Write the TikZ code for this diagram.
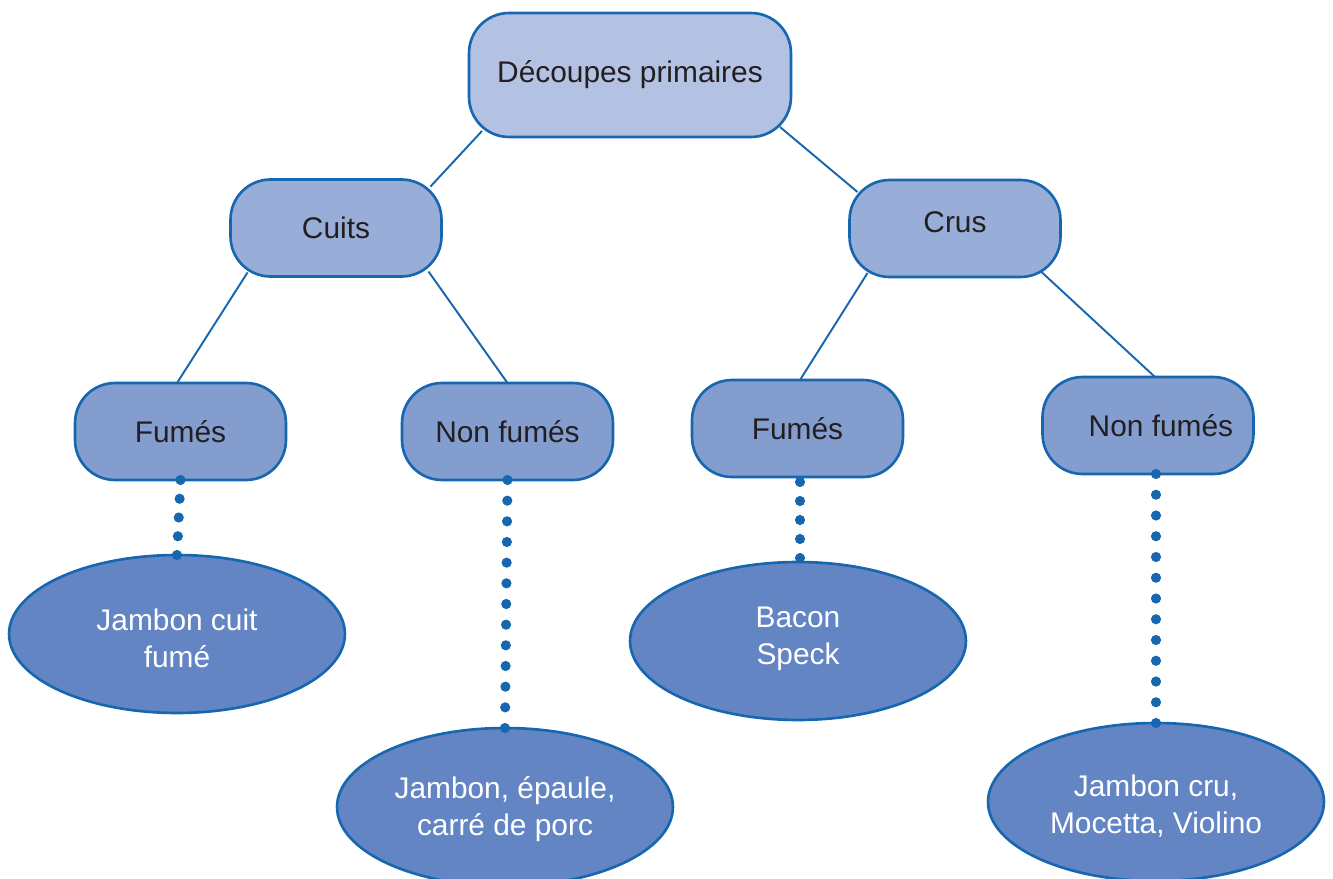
\documentclass[tikz,border=0pt]{standalone}
\usepackage{fontspec}
\setmainfont{Liberation Sans}
\usetikzlibrary{shapes.geometric,calc}
\definecolor{edgeblue}{RGB}{22,102,176}
\definecolor{topfill}{RGB}{179,194,227}
\definecolor{midfill}{RGB}{153,173,217}
\definecolor{lowfill}{RGB}{131,157,207}
\definecolor{ellfill}{RGB}{100,133,196}
\definecolor{txtdark}{RGB}{35,31,32}
\newcommand\twolines[3]{\raisebox{#1}[0pt][0pt]{\begin{tabular}{@{}c@{}}#2\\#3\end{tabular}}}
\begin{document}
\begin{tikzpicture}[x=0.02cm,y=-0.02cm,
  box/.style={draw=edgeblue,line width=1.5pt,rounded corners=0.8cm,outer sep=0pt,inner sep=0pt,
    minimum width=4.22cm,minimum height=1.94cm,text=txtdark,font=\fontsize{17}{21}\selectfont},
  topbox/.style={box,fill=topfill,minimum width=6.44cm,minimum height=2.48cm},
  midbox/.style={box,fill=midfill},
  lowbox/.style={box,fill=lowfill},
  leaf/.style={ellipse,draw=edgeblue,line width=1.5pt,fill=ellfill,minimum width=6.72cm,
    minimum height=3.16cm,inner sep=0pt,outer sep=0pt,text=white,align=center,
    font=\fontsize{17}{21}\selectfont},
  link/.style={draw=edgeblue,line width=1.1pt},
  dotmark/.style={fill=edgeblue}]
\useasboundingbox (0,0) rectangle (1333,879);
% nodes
\node[topbox] (top) at (630,75) {Découpes primaires};
\node[midbox] (cuits) at (336,228) {Cuits};
\node[midbox] (crus) at (955,228.5) {\raisebox{-2.4pt}[0pt][0pt]{Crus}};
\node[lowbox] (fumL) at (180.5,431.5) {Fumés};
\node[lowbox] (nfL) at (507.5,431.5) {Non fumés};
\node[lowbox] (fumR) at (797.5,428.5) {Fumés};
\node[lowbox] (nfR) at (1148,425.5) {\hspace*{14.7pt}Non fumés};
\node[leaf] (ell1) at (177,634) {\twolines{-8.75pt}{Jambon cuit}{fumé}};
\node[leaf] (ell2) at (505,807) {\twolines{-5.65pt}{Jambon, épaule,}{carré de porc}};
\node[leaf] (ell3) at (798,641) {\twolines{-2.85pt}{Bacon}{Speck}};
\node[leaf] (ell4) at (1156,802) {\twolines{-7.65pt}{Jambon cru,}{Mocetta, Violino}};
% solid connectors
\draw[link] ([shift={(13,-6)}]top.south west) -- ([shift={(-11,7)}]cuits.north east);
\draw[link] ([shift={(-11,-10)}]top.south east) -- ([shift={(8,12)}]crus.north west);
\draw[link] ([shift={(17,-4)}]cuits.south west) -- ([shift={(-3.5,0)}]fumL.north);
\draw[link] ([shift={(-13,-5)}]cuits.south east) -- (nfL.north);
\draw[link] ([shift={(18,-4)}]crus.south west) -- ([shift={(2.5,0)}]fumR.north);
\draw[link] ([shift={(-19,-5)}]crus.south east) -- ([shift={(7,0)}]nfR.north);
% dotted connectors
\foreach \i in {0,...,4}
  \fill[dotmark] ($(fumL.south)!\i/4!(ell1.north)$) circle (2.9pt);
\foreach \i in {0,...,12}
  \fill[dotmark] ($(nfL.south)!\i/12!(ell2.north)$) circle (2.9pt);
\foreach \i in {0,...,4}
  \fill[dotmark] ($($(fumR.south)+(2.5,5)$)!\i/4!($(ell3.north)+(2,-4)$)$) circle (2.9pt);
\foreach \i in {0,...,12}
  \fill[dotmark] ($($(nfR.south)+(8,0)$)!\i/12!(ell4.north)$) circle (2.9pt);
\end{tikzpicture}
\end{document}
